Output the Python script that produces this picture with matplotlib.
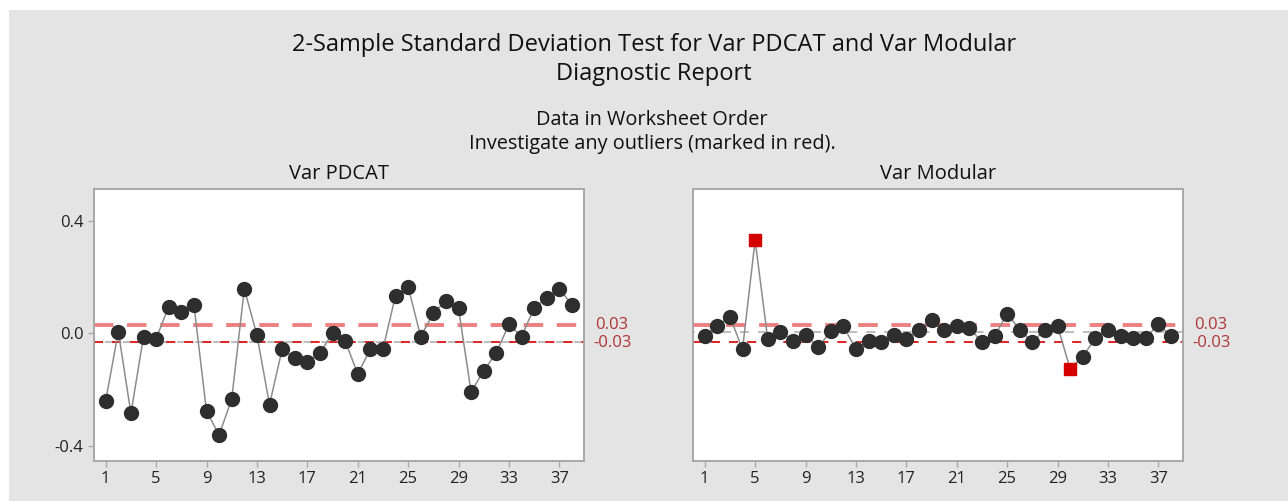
import matplotlib
matplotlib.use("Agg")
import matplotlib.pyplot as plt
from matplotlib.patches import Rectangle

plt.rcParams['font.family'] = ['Open Sans', 'DejaVu Sans']

# ---- data ----
obs = list(range(1, 39))
var_pdcat = [-0.240, 0.006, -0.285, -0.012, -0.019, 0.095, 0.075, 0.101, -0.278, -0.362,
             -0.234, 0.158, -0.006, -0.254, -0.057, -0.089, -0.102, -0.070, 0.000, -0.026,
             -0.145, -0.057, -0.057, 0.134, 0.166, -0.012, 0.071, 0.116, 0.089, -0.209,
             -0.133, -0.070, 0.032, -0.012, 0.090, 0.127, 0.159, 0.101]
var_modular = [-0.011, 0.026, 0.059, -0.057, 0.331, -0.020, 0.006, -0.026, -0.005, -0.050,
               0.007, 0.026, -0.057, -0.026, -0.032, -0.006, -0.020, 0.013, 0.047, 0.013,
               0.027, 0.020, -0.032, -0.011, 0.070, 0.013, -0.032, 0.013, 0.027, -0.126,
               -0.083, -0.018, 0.013, -0.011, -0.018, -0.018, 0.033, -0.011]
outliers_modular = [5, 30]
upper_ref = 0.03
lower_ref = -0.03
center_pdcat = -0.03
center_modular = 0.005
xticks = [1, 5, 9, 13, 17, 21, 25, 29, 33, 37]
yticks = [-0.4, 0.0, 0.4]
ytick_labels = ["-0.4", "0.0", "0.4"]

W, H = 1288, 501
fig = plt.figure(figsize=(W / 100, H / 100), dpi=100)
fig.patch.set_facecolor('white')
fig.patches.append(Rectangle((9 / W, 0), 1 - 9 / W, 1 - 10 / H, transform=fig.transFigure,
                             facecolor='#e4e4e4', edgecolor='none', zorder=-10))

def px_axes(x0, y0, x1, y1):
    return fig.add_axes([x0 / W, 1 - y1 / H, (x1 - x0) / W, (y1 - y0) / H])

txt = '#111111'
fig.text(654 / W, 1 - 45 / H, '2-Sample Standard Deviation Test for Var PDCAT and Var Modular',
         ha='center', va='center', fontsize=17, color=txt)
fig.text(654 / W, 1 - 74 / H, 'Diagnostic Report', ha='center', va='center', fontsize=17, color=txt)
fig.text(652 / W, 1 - 120 / H, 'Data in Worksheet Order', ha='center', va='center', fontsize=14.3, color=txt)
fig.text(652 / W, 1 - 144 / H, 'Investigate any outliers (marked in red).', ha='center', va='center',
         fontsize=14.3, color=txt)

panels = [
    (94, 584, var_pdcat, [], center_pdcat, 'Var PDCAT', True),
    (693, 1183, var_modular, outliers_modular, center_modular, 'Var Modular', False),
]
for x0, x1, vals, outl, center, title, show_y in panels:
    ax = px_axes(x0, 189, x1, 461)
    ax.set_facecolor('white')
    ax.set_xlim(0.07, 38.96)
    ax.set_ylim(-0.4545, 0.5135)
    ax.axhline(center, color='#b8b8b8', lw=1.3, ls=(4, (5, 5)), zorder=1)
    ax.axhline(upper_ref, color='#ee8080', lw=2.8, ls=(0, (5, 3.5)), zorder=1.5)
    ax.axhline(lower_ref, color='#dd1111', lw=1.3, ls=(0, (5, 5)), zorder=1.6)
    ax.plot(obs, vals, color='#8c8c8c', lw=1.1, zorder=2)
    normal = [(o, v) for o, v in zip(obs, vals) if o not in outl]
    ax.plot([p[0] for p in normal], [p[1] for p in normal], 'o', ms=10, color='#2e2e2e',
            mec='#2e2e2e', zorder=3)
    if outl:
        ax.plot(outl, [vals[o - 1] for o in outl], 's', ms=9.3, color='#d40000', mec='#d40000', zorder=4)
    ax.set_xticks(xticks)
    ax.set_xticklabels([str(t) for t in xticks])
    if show_y:
        ax.set_yticks(yticks)
        ax.set_yticklabels(ytick_labels)
    else:
        ax.set_yticks([])
    ax.tick_params(colors='#a8a8a8', labelcolor='#222222', labelsize=12, length=4, width=1)
    for s in ax.spines.values():
        s.set_color('#a8a8a8')
        s.set_linewidth(1.4)
    ax.set_title(title, fontsize=14.5, color=txt, pad=7)
    ax.text(1.023, upper_ref, '0.03', transform=ax.get_yaxis_transform(), ha='left', va='center',
            fontsize=12, color='#b03535')
    ax.text(1.02, lower_ref - 0.003, '-0.03', transform=ax.get_yaxis_transform(), ha='left', va='center',
            fontsize=12, color='#b03535')

fig.savefig('out.png', dpi=100, facecolor=fig.get_facecolor())
